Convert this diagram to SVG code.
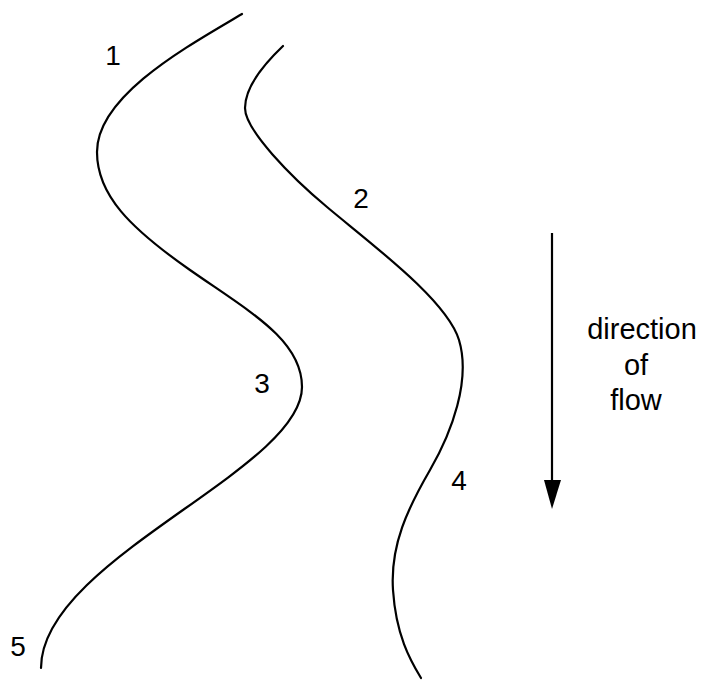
<svg xmlns="http://www.w3.org/2000/svg" width="702" height="680" viewBox="0 0 702 680">
<style>
.bank{fill:none;stroke:#000;stroke-width:2.2;stroke-linecap:round}
.lbl{font-family:"Liberation Sans",Arial,sans-serif;font-size:28px;fill:#000;text-anchor:middle}
.flow{font-size:29px}
.arr{stroke:#000;stroke-width:2.2;fill:none}
</style>
<rect width="702" height="680" fill="#fff"/>
<g id="left-bank">
<path class="bank" d="M242,14 C190,45 97,95 97,152 C97,195 130,228 190,270 C250,312 302,340 302,387 C302,470 41,560 41,668"/>
</g>
<g id="right-bank">
<path class="bank" d="M283,46 C262,66 245,88 245,108 C245,130 291,177 327,207 C371,244 447,300 459,340 C471,380 452,432 430,470 C408,508 390,545 393,590 C396,635 410,660 421,678"/>
</g>
<g id="labels">
<text class="lbl" x="113" y="65">1</text>
<text class="lbl" x="361" y="208">2</text>
<text class="lbl" x="262" y="393">3</text>
<text class="lbl" x="459" y="490">4</text>
<text class="lbl" x="18" y="656">5</text>
</g>
<g id="connectors">
<line class="arr" x1="552" y1="233" x2="552" y2="484"/>
<polygon points="544,480 561,480 552,509" fill="#000"/>
</g>
<g id="flow-label">
<text class="lbl flow" x="642" y="339">direction</text>
<text class="lbl flow" x="636" y="375">of</text>
<text class="lbl flow" x="636" y="410">flow</text>
</g>
</svg>
